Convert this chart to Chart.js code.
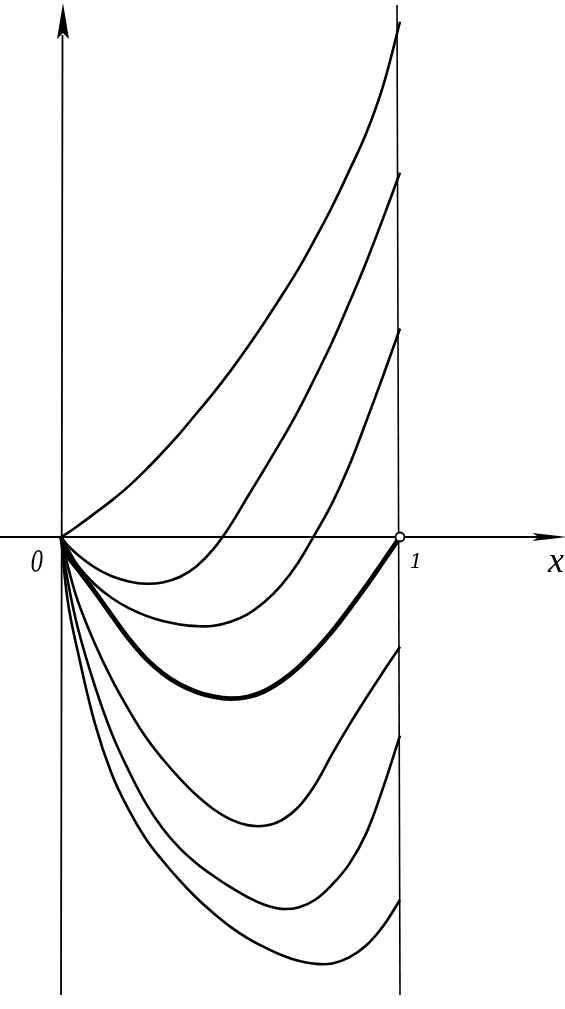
<!DOCTYPE html>
<html><head><meta charset="utf-8">
<script src="https://cdn.jsdelivr.net/npm/chart.js@4/dist/chart.umd.min.js"></script>
<style>html,body{margin:0;padding:0;background:#fff;overflow:hidden}#wrap{width:565px;height:1009px;position:relative}</style>
</head><body><div id="wrap"><canvas id="c"></canvas></div>
<script>
// Family of curves on [0,1] (x and y in the same unit)
const gridX=[0,0.02,0.05,0.1,0.15,0.2,0.25,0.3,0.35,0.4,0.45,0.5,0.55,0.6,0.65,0.7,0.75,0.8,0.85,0.9,0.95,1.0];
const curve1Y=[0,0.012,0.033,0.07,0.108,0.15,0.198,0.25,0.305,0.365,0.425,0.49,0.56,0.633,0.71,0.79,0.88,0.975,1.08,1.19,1.33,1.52];
const curve2Y=[0,-0.025,-0.053,-0.09,-0.116,-0.131,-0.138,-0.134,-0.118,-0.086,-0.035,0.035,0.118,0.2,0.284,0.373,0.472,0.575,0.69,0.81,0.94,1.075];
const curve3Y=[0,-0.035,-0.085,-0.14,-0.18,-0.21,-0.232,-0.248,-0.258,-0.263,-0.262,-0.25,-0.228,-0.192,-0.142,-0.075,0.01,0.1,0.21,0.34,0.475,0.615];
const curve4Y=[0,-0.055,-0.095,-0.162,-0.232,-0.3,-0.358,-0.402,-0.435,-0.457,-0.471,-0.477,-0.472,-0.455,-0.425,-0.385,-0.335,-0.278,-0.213,-0.145,-0.073,0];
const curve5Y=[0,-0.085,-0.19,-0.315,-0.42,-0.51,-0.59,-0.655,-0.712,-0.762,-0.803,-0.833,-0.85,-0.852,-0.836,-0.797,-0.73,-0.64,-0.555,-0.475,-0.398,-0.324];
const curve6Y=[0,-0.13,-0.27,-0.44,-0.58,-0.69,-0.785,-0.86,-0.918,-0.963,-1.0,-1.033,-1.062,-1.085,-1.097,-1.093,-1.07,-1.025,-0.965,-0.875,-0.74,-0.586];
const curve7Y=[0,-0.19,-0.34,-0.55,-0.7,-0.805,-0.89,-0.955,-1.013,-1.065,-1.11,-1.15,-1.183,-1.21,-1.233,-1.25,-1.259,-1.258,-1.24,-1.205,-1.148,-1.071];
const curveWidths=[2.6,2.6,2.6,4.8,2.6,2.6,2.6];
const markerX=[1]; const markerY=[0];
const tickLabels={origin:'0',one:'1',axis:'x'};

const allY=[curve1Y,curve2Y,curve3Y,curve4Y,curve5Y,curve6Y,curve7Y];
const toPts=(xs,ys)=>xs.map((x,i)=>({x:x,y:ys[i]}));

const datasets=allY.map((ys,i)=>({
  data:toPts(gridX,ys),borderColor:'#000',borderWidth:curveWidths[i],
  pointRadius:0,tension:0.4,fill:false,order:2
}));
datasets.push({data:toPts(markerX,markerY),showLine:false,pointRadius:4.5,
  pointBackgroundColor:'#fff',pointBorderColor:'#000',pointBorderWidth:1.8,order:0});

const axesPlugin={
  id:'axesPlugin',
  beforeDatasetsDraw(chart){
    const {ctx,scales:{x,y}}=chart;
    ctx.save();
    ctx.strokeStyle='#000';ctx.fillStyle='#000';ctx.lineWidth=1.8;
    const X0=x.getPixelForValue(0),X1=x.getPixelForValue(1),Y0=y.getPixelForValue(0);
    const yBot=y.getPixelForValue(-1.351),yTop=y.getPixelForValue(1.569);
    ctx.beginPath();ctx.moveTo(X0,yBot);ctx.lineTo(X0+1.5,yTop+30);ctx.stroke();
    ctx.beginPath();ctx.moveTo(X0+2,yTop-2);ctx.lineTo(X0-4,yTop+34);ctx.lineTo(X0+2,yTop+28);ctx.lineTo(X0+8,yTop+34);ctx.closePath();ctx.fill();
    ctx.lineWidth=1.6;
    ctx.beginPath();ctx.moveTo(X1,yBot);ctx.lineTo(X1-3,yTop);ctx.stroke();
    ctx.lineWidth=1.8;
    const xl=x.getPixelForValue(-0.18),xr=x.getPixelForValue(1.45);
    ctx.beginPath();ctx.moveTo(xl,Y0);ctx.lineTo(xr,Y0);ctx.stroke();
    ctx.beginPath();ctx.moveTo(xr+14,Y0);ctx.lineTo(xr-20,Y0-4);ctx.lineTo(xr-14,Y0);ctx.lineTo(xr-20,Y0+4);ctx.closePath();ctx.fill();
    ctx.restore();
  },
  afterDatasetsDraw(chart){
    const {ctx,scales:{x,y}}=chart;
    const X0=x.getPixelForValue(0),X1=x.getPixelForValue(1),Y0=y.getPixelForValue(0);
    ctx.save();ctx.fillStyle='#000';ctx.textBaseline='alphabetic';ctx.textAlign='center';
    ctx.save();ctx.translate(X0-24,Y0+35);ctx.scale(0.8,1.15);
    ctx.font='italic 26px "DejaVu Serif", "Liberation Serif", serif';
    ctx.fillText(tickLabels.origin,0,0);ctx.restore();
    ctx.font='italic 20px "DejaVu Serif", "Liberation Serif", serif';
    ctx.fillText(tickLabels.one,X1+16,Y0+31);
    ctx.font='italic 36px "Liberation Serif", "DejaVu Serif", serif';
    ctx.fillText(tickLabels.axis,x.getPixelForValue(1.46),Y0+35);
    ctx.restore();
  }
};

new Chart(document.getElementById('c'),{
  type:'line',
  data:{datasets},
  options:{
    responsive:true,maintainAspectRatio:false,animation:false,
    layout:{padding:0,autoPadding:false},
    plugins:{legend:{display:false},tooltip:{enabled:false}},
    scales:{
      x:{type:'linear',display:false,min:-61/339,max:(565-61)/339},
      y:{type:'linear',display:false,min:-(1009-537)/339,max:537/339}
    }
  },
  plugins:[axesPlugin]
});
</script></body></html>
